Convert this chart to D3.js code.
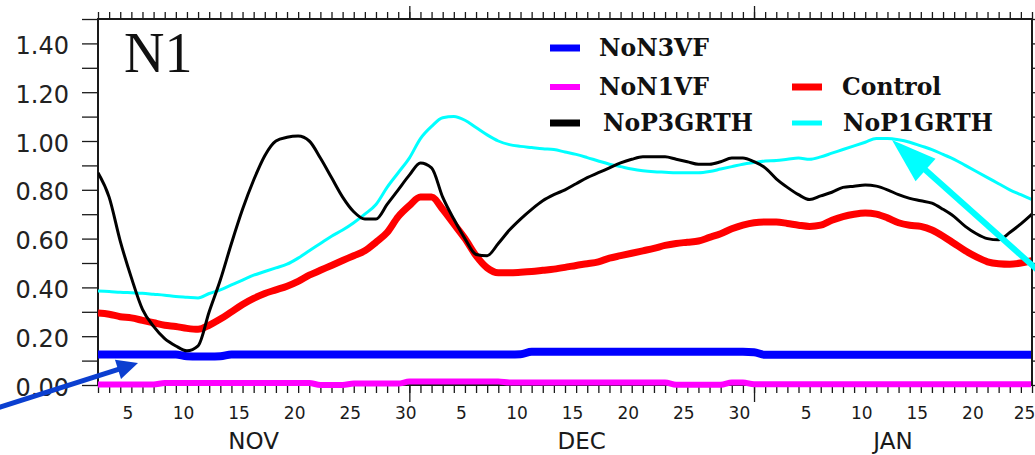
<!DOCTYPE html>
<html>
<head>
<meta charset="utf-8">
<script src="https://cdn.jsdelivr.net/npm/d3@7"></script>
<style>
  html, body { margin: 0; padding: 0; background: #fff; }
  svg { display: block; }
</style>
</head>
<body>
<svg id="chart" width="1035" height="455"></svg>
<script>
// Daily values, 2 Nov through 25 Jan
const firstDay = "2000-11-02";
const lastDay = "2001-01-25";

const seriesNames = ["NoN3VF", "NoN1VF", "Control", "NoP3GRTH", "NoP1GRTH"];
const seriesColors = ["#0000ff", "#ff00ff", "#ff0000", "#000000", "#00ffff"];

const noN3VF = [
  0.125,0.125,0.125,0.125,0.125,0.125,0.125,0.125,0.118,0.117,
  0.117,0.118,0.125,0.125,0.125,0.125,0.125,0.125,0.125,0.125,
  0.125,0.125,0.125,0.125,0.125,0.125,0.125,0.125,0.125,0.125,
  0.125,0.125,0.125,0.125,0.125,0.125,0.125,0.125,0.126,0.136,
  0.136,0.136,0.136,0.136,0.136,0.136,0.136,0.136,0.136,0.136,
  0.136,0.136,0.136,0.136,0.136,0.136,0.136,0.136,0.136,0.134,
  0.124,0.124,0.124,0.124,0.124,0.124,0.124,0.124,0.124,0.124,
  0.124,0.124,0.124,0.124,0.124,0.124,0.124,0.124,0.124,0.124,
  0.124,0.124,0.124,0.124,0.124
];
const noN1VF = [
  0.002,0.002,0.002,0.002,0.002,0.002,0.008,0.008,0.008,0.008,
  0.008,0.008,0.008,0.008,0.008,0.008,0.008,0.008,0.008,0.008,
  0.000,0.000,0.000,0.006,0.006,0.006,0.006,0.006,0.014,0.014,
  0.014,0.014,0.014,0.014,0.014,0.014,0.014,0.010,0.010,0.010,
  0.010,0.010,0.010,0.010,0.010,0.010,0.010,0.010,0.010,0.010,
  0.010,0.010,0.001,0.001,0.001,0.001,0.001,0.010,0.010,0.003,
  0.003,0.003,0.003,0.003,0.003,0.003,0.003,0.003,0.003,0.003,
  0.003,0.003,0.003,0.003,0.003,0.003,0.003,0.003,0.003,0.003,
  0.003,0.003,0.003,0.003,0.003
];
const control = [
  0.295,0.290,0.280,0.275,0.265,0.255,0.245,0.240,0.232,0.228,
  0.245,0.270,0.300,0.330,0.355,0.375,0.390,0.405,0.425,0.450,
  0.470,0.490,0.510,0.530,0.550,0.585,0.625,0.690,0.735,0.770,
  0.770,0.720,0.660,0.600,0.530,0.480,0.460,0.460,0.462,0.465,
  0.470,0.475,0.482,0.490,0.497,0.505,0.520,0.530,0.540,0.550,
  0.560,0.572,0.580,0.585,0.590,0.605,0.620,0.640,0.655,0.665,
  0.668,0.668,0.662,0.655,0.650,0.655,0.675,0.690,0.700,0.705,
  0.700,0.685,0.665,0.655,0.650,0.635,0.610,0.580,0.550,0.525,
  0.505,0.497,0.495,0.500,0.510
];
const noP3GRTH = [
  0.870,0.770,0.590,0.440,0.310,0.240,0.190,0.160,0.140,0.160,
  0.300,0.430,0.580,0.720,0.840,0.940,1.000,1.015,1.020,1.000,
  0.930,0.850,0.770,0.710,0.680,0.680,0.740,0.800,0.860,0.910,
  0.890,0.770,0.680,0.600,0.535,0.530,0.580,0.635,0.680,0.720,
  0.755,0.780,0.800,0.825,0.850,0.870,0.890,0.910,0.925,0.935,
  0.935,0.935,0.925,0.915,0.905,0.905,0.915,0.930,0.930,0.915,
  0.890,0.845,0.810,0.780,0.760,0.775,0.790,0.810,0.815,0.820,
  0.815,0.800,0.780,0.765,0.755,0.745,0.720,0.690,0.650,0.620,
  0.600,0.595,0.625,0.660,0.700
];
const noP1GRTH = [
  0.385,0.383,0.380,0.378,0.376,0.372,0.368,0.363,0.360,0.357,
  0.375,0.390,0.410,0.430,0.450,0.465,0.480,0.495,0.520,0.550,
  0.580,0.610,0.635,0.665,0.700,0.740,0.810,0.870,0.930,1.010,
  1.060,1.095,1.100,1.085,1.055,1.025,1.000,0.985,0.978,0.973,
  0.968,0.965,0.955,0.945,0.932,0.918,0.905,0.895,0.885,0.878,
  0.874,0.872,0.870,0.870,0.870,0.875,0.885,0.895,0.905,0.912,
  0.918,0.920,0.925,0.930,0.925,0.935,0.950,0.965,0.980,0.995,
  1.010,1.010,1.005,0.995,0.980,0.965,0.945,0.925,0.900,0.875,
  0.850,0.825,0.800,0.780,0.760
];

const yTicks = [0.0, 0.2, 0.4, 0.6, 0.8, 1.0, 1.2, 1.4];
const yTickLabels = ["0.00", "0.20", "0.40", "0.60", "0.80", "1.00", "1.20", "1.40"];
const yMinorTicks = [0.0,0.1,0.2,0.3,0.4,0.5,0.6,0.7,0.8,0.9,1.0,1.1,1.2,1.3,1.4,1.5];
const monthLabels = ["NOV", "DEC", "JAN"];
const monthEdges = ["2000-11-30", "2000-12-31"];
const panelLabel = "N1";

const svg = d3.select("#chart");
const W = 1035, H = 455;
const plot = { left: 98, right: 1032, top: 19, bottom: 385 };

svg.append("rect").attr("width", W).attr("height", H).attr("fill", "#fff");

const parse = d3.utcParse("%Y-%m-%d");
const start = parse(firstDay), end = parse(lastDay);
const days = d3.utcDay.range(start, d3.utcDay.offset(end, 1));
const edges = monthEdges.map(parse);

const x = d3.scaleUtc().domain([start, end]).range([plot.left, plot.right]);
const y = d3.scaleLinear().domain([0, 1.5]).range([plot.bottom, plot.top]);

const ink = "#1a1a1a";
function styleAxis(g) {
  g.select(".domain").remove();
  g.selectAll(".tick line").attr("stroke", ink).attr("stroke-width", 1.3);
}

// ---- frame and ticks ----
// bottom: daily ticks, longer ticks at month edges, labels every 5th day
svg.append("g").attr("transform", `translate(0,${plot.bottom})`)
  .call(d3.axisBottom(x).tickValues(days).tickSize(8).tickFormat(""))
  .call(styleAxis);
svg.append("g").attr("transform", `translate(0,${plot.bottom})`)
  .call(d3.axisBottom(x).tickValues(edges).tickSize(17).tickFormat(""))
  .call(styleAxis);
const dayLabels = days.filter(d => d.getUTCDate() % 5 === 0);
svg.append("g").attr("transform", `translate(0,${plot.bottom})`)
  .call(d3.axisBottom(x).tickValues(dayLabels).tickSize(0).tickFormat(d3.utcFormat("%-d")))
  .call(g => {
    g.select(".domain").remove();
    g.selectAll("text")
      .attr("y", 34).attr("dy", 0)
      .attr("dx", d => (+d === +end ? -8 : -4))
      .attr("fill", ink)
      .style("font-family", "'DejaVu Sans', sans-serif")
      .style("font-size", "17px");
  });

// top: daily ticks pointing up
svg.append("g").attr("transform", `translate(0,${plot.top})`)
  .call(d3.axisTop(x).tickValues(days).tickSize(7).tickFormat(""))
  .call(styleAxis);
svg.append("g").attr("transform", `translate(0,${plot.top})`)
  .call(d3.axisTop(x).tickValues(edges).tickSize(13).tickFormat(""))
  .call(styleAxis);

// left: ticks every 0.1, labels every 0.2
svg.append("g").attr("transform", `translate(${plot.left},0)`)
  .call(d3.axisLeft(y).tickValues(yMinorTicks).tickSize(16).tickFormat(""))
  .call(styleAxis);
svg.append("g").attr("transform", `translate(${plot.left},0)`)
  .call(d3.axisLeft(y).tickValues(yTicks).tickSize(0).tickFormat((d, i) => yTickLabels[i]))
  .call(g => {
    g.select(".domain").remove();
    g.selectAll("text")
      .attr("x", -29).attr("dy", 0).attr("y", 10)
      .attr("fill", "#222")
      .style("font-family", "'DejaVu Sans', sans-serif")
      .style("font-size", "24px");
  });

// right: ticks every 0.1
svg.append("g").attr("transform", `translate(${plot.right},0)`)
  .call(d3.axisRight(y).tickValues(yMinorTicks).tickSize(16).tickFormat(""))
  .call(styleAxis);

// month names, centred in each month's span
const spans = [start, ...edges, end];
svg.append("g").selectAll("text")
  .data(monthLabels)
  .join("text")
  .attr("x", (d, i) => (x(spans[i]) + x(spans[i + 1])) / 2)
  .attr("y", 449)
  .attr("text-anchor", "middle")
  .attr("fill", ink)
  .style("font-family", "'DejaVu Sans', sans-serif")
  .style("font-size", "23px")
  .text(d => d);

// frame
svg.append("rect")
  .attr("x", plot.left).attr("y", plot.top)
  .attr("width", plot.right - plot.left).attr("height", plot.bottom - plot.top)
  .attr("fill", "none").attr("stroke", ink).attr("stroke-width", 2);

// ---- series ----
svg.append("clipPath").attr("id", "plotClip")
  .append("rect").attr("x", plot.left).attr("y", 0)
  .attr("width", plot.right - plot.left - 1).attr("height", H);

const line = d3.line()
  .x((d, i) => x(days[i]))
  .y(d => y(d))
  .curve(d3.curveMonotoneX);

const drawOrder = [
  { values: noN1VF, color: seriesColors[1], width: 6 },
  { values: noN3VF, color: seriesColors[0], width: 8 },
  { values: control, color: seriesColors[2], width: 7 },
  { values: noP1GRTH, color: seriesColors[4], width: 3 },
  { values: noP3GRTH, color: seriesColors[3], width: 3 }
];
svg.append("g").attr("clip-path", "url(#plotClip)")
  .selectAll("path")
  .data(drawOrder)
  .join("path")
  .attr("d", d => line(d.values))
  .attr("fill", "none")
  .attr("stroke", d => d.color)
  .attr("stroke-width", d => d.width)
  .attr("stroke-linejoin", "round");

// ---- panel label ----
svg.append("text")
  .attr("x", 124).attr("y", 72)
  .attr("fill", "#111")
  .style("font-family", "'Liberation Serif', 'Times New Roman', serif")
  .style("font-size", "56px")
  .text(panelLabel);

// ---- legend ----
const legendItems = [
  { name: seriesNames[0], color: seriesColors[0], sx: 550, tx: 599, y: 48, w: 7 },
  { name: seriesNames[1], color: seriesColors[1], sx: 550, tx: 599, y: 87, w: 6 },
  { name: seriesNames[3], color: seriesColors[3], sx: 550, tx: 603, y: 123, w: 7 },
  { name: seriesNames[2], color: seriesColors[2], sx: 792, tx: 842, y: 87, w: 7 },
  { name: seriesNames[4], color: seriesColors[4], sx: 792, tx: 843, y: 123, w: 5 }
];
const lg = svg.append("g");
lg.selectAll("line")
  .data(legendItems)
  .join("line")
  .attr("x1", d => d.sx).attr("x2", d => d.sx + 30)
  .attr("y1", d => d.y).attr("y2", d => d.y)
  .attr("stroke", d => d.color)
  .attr("stroke-width", d => d.w);
lg.selectAll("text")
  .data(legendItems)
  .join("text")
  .attr("x", d => d.tx)
  .attr("y", d => d.y + 8)
  .attr("fill", "#111")
  .style("font-family", "'DejaVu Serif', serif")
  .style("font-weight", "bold")
  .style("font-size", "23.5px")
  .text(d => d.name);

// ---- pointer arrows ----
function arrow(tail, tip, headLen, halfW, width, color) {
  const dx = tip[0] - tail[0], dy = tip[1] - tail[1];
  const len = Math.hypot(dx, dy);
  const ux = dx / len, uy = dy / len;
  const bx = tip[0] - ux * headLen, by = tip[1] - uy * headLen;
  const g = svg.append("g");
  g.append("line")
    .attr("x1", tail[0]).attr("y1", tail[1])
    .attr("x2", bx + ux * 2).attr("y2", by + uy * 2)
    .attr("stroke", color).attr("stroke-width", width);
  g.append("path")
    .attr("d", d3.line()([
      tip,
      [bx - uy * halfW, by + ux * halfW],
      [bx + uy * halfW, by - ux * halfW]
    ]) + "Z")
    .attr("fill", color);
}
arrow([-6, 409], [138, 363], 21, 10, 5, "#0b3fd0");
arrow([1052, 283], [892, 140], 45, 15, 6, "#00ffff");
</script>
</body>
</html>
